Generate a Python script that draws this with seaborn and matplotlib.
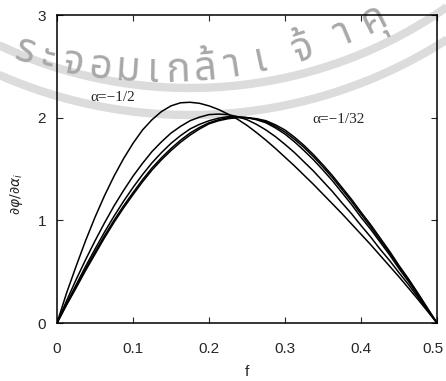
import numpy as np
import pandas as pd
import matplotlib
matplotlib.use('Agg')
import matplotlib.pyplot as plt
import matplotlib.transforms as mtransforms
import seaborn as sns

# values
f = [0, 0.0125, 0.025, 0.0375, 0.05, 0.0625, 0.075, 0.0875, 0.1, 0.1125,
     0.125, 0.1375, 0.15, 0.1625, 0.175, 0.1875, 0.2, 0.2125, 0.225, 0.2375,
     0.25, 0.2625, 0.275, 0.2875, 0.3, 0.3125, 0.325, 0.3375, 0.35, 0.3625,
     0.375, 0.3875, 0.4, 0.4125, 0.425, 0.4375, 0.45, 0.4625, 0.475, 0.4875, 0.5]
alphas = ['-1/2', '-1/4', '-1/8', '-1/16', '-1/32']
d_half = [0, 0.29, 0.55, 0.80, 1.03, 1.24, 1.43, 1.60, 1.75, 1.88,
          1.98, 2.06, 2.115, 2.145, 2.15, 2.14, 2.115, 2.08, 2.035, 1.985,
          1.925, 1.855, 1.78, 1.70, 1.615, 1.53, 1.44, 1.35, 1.255, 1.16,
          1.065, 0.965, 0.865, 0.765, 0.66, 0.555, 0.45, 0.34, 0.23, 0.115, 0]
d_quarter = [0, 0.215, 0.42, 0.615, 0.80, 0.975, 1.14, 1.29, 1.43, 1.555,
             1.67, 1.765, 1.85, 1.915, 1.97, 2.005, 2.03, 2.035, 2.03, 2.01,
             1.98, 1.935, 1.88, 1.815, 1.74, 1.66, 1.57, 1.48, 1.38, 1.28,
             1.17, 1.065, 0.95, 0.84, 0.72, 0.61, 0.49, 0.375, 0.25, 0.125, 0]
d_eighth = [0, 0.19, 0.37, 0.55, 0.72, 0.885, 1.04, 1.185, 1.32, 1.445,
            1.56, 1.66, 1.75, 1.825, 1.89, 1.935, 1.97, 1.995, 2.01, 2.01,
            2.00, 1.98, 1.95, 1.90, 1.84, 1.765, 1.68, 1.59, 1.49, 1.385,
            1.27, 1.155, 1.03, 0.915, 0.79, 0.665, 0.53, 0.405, 0.27, 0.135, 0]
d_16th = [0, 0.18, 0.35, 0.525, 0.69, 0.85, 1.00, 1.14, 1.27, 1.395,
          1.51, 1.61, 1.70, 1.78, 1.85, 1.905, 1.95, 1.98, 2.00, 2.005,
          2.00, 1.985, 1.96, 1.915, 1.86, 1.79, 1.71, 1.62, 1.52, 1.415,
          1.30, 1.185, 1.06, 0.94, 0.81, 0.685, 0.55, 0.42, 0.28, 0.14, 0]
d_32nd = [0, 0.175, 0.34, 0.51, 0.67, 0.83, 0.98, 1.12, 1.25, 1.375,
          1.49, 1.59, 1.68, 1.76, 1.83, 1.89, 1.94, 1.97, 1.99, 2.00,
          2.00, 1.99, 1.97, 1.93, 1.88, 1.81, 1.73, 1.64, 1.54, 1.435,
          1.32, 1.205, 1.08, 0.96, 0.83, 0.70, 0.56, 0.43, 0.29, 0.145, 0]
curves = [d_half, d_quarter, d_eighth, d_16th, d_32nd]

xticks = [0, 0.1, 0.2, 0.3, 0.4, 0.5]
xtick_labels = ['0', '0.1', '0.2', '0.3', '0.4', '0.5']
yticks = [0, 1, 2, 3]

# watermark text (partly visible in the scan)
wm_chars = ['ร', 'ะ', 'จ', 'อ', 'ม', 'เ', 'ก', 'ล้', 'า', 'เ', 'จ้', 'า', 'คุ']
wm_x = [25, 48, 73, 100, 127, 152, 178, 205, 232, 260, 303, 343, 375]

df = pd.concat([pd.DataFrame({'f': f, 'dphi': c, 'alpha': a})
                for a, c in zip(alphas, curves)], ignore_index=True)

sns.set_style('ticks')
plt.rcParams['font.family'] = ['Liberation Sans', 'DejaVu Sans']

fig = plt.figure(figsize=(4.46, 3.81), dpi=100)

# background layer for the watermark
bg = fig.add_axes([0, 0, 1, 1], zorder=0)
bg.set_xlim(0, 446)
bg.set_ylim(381, 0)
bg.axis('off')
cx, cy = 190, -360
t = np.linspace(-np.pi / 2.6, np.pi / 2.6, 300)
for r in [448, 475]:
    bg.plot(cx + r * np.sin(t), cy + r * np.cos(t), color='#dcdcdc', lw=6,
            solid_capstyle='butt')
tx, ty, r_txt = 160, -400, 472
for ch, x in zip(wm_chars, wm_x):
    dx = x - tx
    y = ty + np.sqrt(r_txt ** 2 - dx ** 2)
    rot = np.degrees(np.arcsin(dx / r_txt))
    bg.text(x, y, ch, fontsize=29, color='#a8a8a8', ha='center', va='center',
            rotation=rot, rotation_mode='anchor',
            family=['Noto Sans Thai', 'Noto Sans', 'DejaVu Sans'])

ax = fig.add_axes([0.1278, 0.1522, 0.852, 0.8084], zorder=1)
ax.set_facecolor('none')
sns.lineplot(data=df, x='f', y='dphi', hue='alpha', palette=['black'] * 5,
             legend=False, linewidth=1.1, ax=ax)

ax.set_xlim(0, 0.5)
ax.set_ylim(0, 3)
ax.set_xticks(xticks)
ax.set_xticklabels(xtick_labels)
ax.set_yticks(yticks)
ax.tick_params(direction='in', top=True, right=True, length=4, width=0.8,
               labelsize=11)
ax.tick_params(axis='x', pad=14)
ax.tick_params(axis='y', pad=8)
for s in ax.spines.values():
    s.set_linewidth(1.1)
    s.set_color('black')

# nudge the last x label so it stays inside the picture
last = ax.get_xticklabels()[-1]
last.set_transform(last.get_transform() +
                   mtransforms.ScaledTranslation(-4 / 100, 0, fig.dpi_scale_trans))

ax.set_xlabel('f', fontsize=11, labelpad=6)
ax.set_ylabel(r'$\partial\varphi/\partial\alpha_i$', fontsize=10)
ax.yaxis.set_label_coords(-0.085, 0.42)

ax.text(0.074, 2.2, 'α=−1/2', fontsize=11, family='Liberation Serif',
        ha='center', va='center')
ax.text(0.37, 1.98, 'α=−1/32', fontsize=11, family='Liberation Serif',
        ha='center', va='center')

fig.savefig('out.png', dpi=100)
